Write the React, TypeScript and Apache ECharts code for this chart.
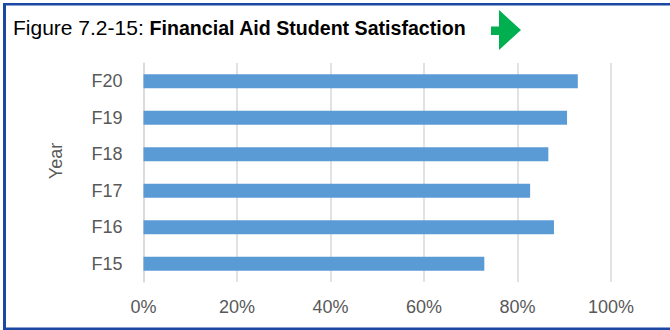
import React, { useEffect, useRef } from "react";
import * as echarts from "echarts";

const categories = ["F15", "F16", "F17", "F18", "F19", "F20"];
const satisfaction = [72.9, 87.8, 82.7, 86.6, 90.6, 92.9];
const xTicks = { min: 0, max: 100, interval: 20 };
const titlePrefix = "Figure 7.2-15: ";
const titleMain = "Financial Aid Student Satisfaction";
const yAxisName = "Year";

const FONT = "'Liberation Sans', Arial, sans-serif";
const BORDER = "#1a48a3";

export default function App() {
  const ref = useRef<HTMLDivElement>(null);
  useEffect(() => {
    document.body.style.margin = "0";
    if (!ref.current) return;
    const chart = echarts.init(ref.current, null, { renderer: "svg" });
    chart.setOption({
      animation: false,
      backgroundColor: "#ffffff",
      textStyle: { fontFamily: FONT },
      title: {
        left: 13,
        top: 17,
        padding: 0,
        text: `{a|${titlePrefix}}{b|${titleMain}}`,
        textStyle: {
          rich: {
            a: { fontFamily: FONT, fontSize: 21, color: "#000000", fontWeight: "normal" },
            b: { fontFamily: FONT, fontSize: 19.6, color: "#000000", fontWeight: "bold" },
          },
        },
      },
      grid: { left: 143.5, right: 59, top: 63, bottom: 48, containLabel: false },
      xAxis: {
        type: "value",
        min: xTicks.min,
        max: xTicks.max,
        interval: xTicks.interval,
        axisLine: { show: false },
        axisTick: { show: false },
        splitLine: { show: true, lineStyle: { color: "#d9d9d9", width: 1.5 } },
        axisLabel: {
          formatter: "{value}%",
          fontSize: 18,
          color: "#595959",
          fontFamily: FONT,
          margin: 16,
        },
      },
      yAxis: {
        type: "category",
        data: categories,
        axisLine: { show: true, lineStyle: { color: "#d9d9d9", width: 1.5 } },
        axisTick: { show: false },
        axisLabel: { fontSize: 18, color: "#595959", fontFamily: FONT, margin: 21 },
      },
      series: [
        {
          type: "bar",
          data: satisfaction,
          barWidth: 14,
          itemStyle: { color: "#5b9bd5" },
        },
      ],
      graphic: [
        { type: "rect", left: 3, top: 3, shape: { width: 667, height: 2.5 }, style: { fill: BORDER }, z: 100 },
        { type: "rect", left: 3, top: 3, shape: { width: 3, height: 327 }, style: { fill: BORDER }, z: 100 },
        { type: "rect", left: 3, top: 327.5, shape: { width: 667, height: 2.5 }, style: { fill: BORDER }, z: 100 },
        {
          type: "polygon",
          shape: {
            points: [
              [491, 26.5], [499, 26.5], [499, 10], [521, 30], [499, 50], [499, 35], [491, 35],
            ],
          },
          style: { fill: "#00b050" },
          z: 100,
        },
        {
          type: "text",
          x: 56,
          y: 161,
          rotation: Math.PI / 2,
          style: {
            text: yAxisName,
            fontSize: 18,
            fontFamily: FONT,
            fill: "#595959",
            align: "center",
            verticalAlign: "middle",
          },
          z: 100,
        },
      ],
    });
    return () => chart.dispose();
  }, []);
  return <div ref={ref} style={{ width: 670, height: 330 }} />;
}
